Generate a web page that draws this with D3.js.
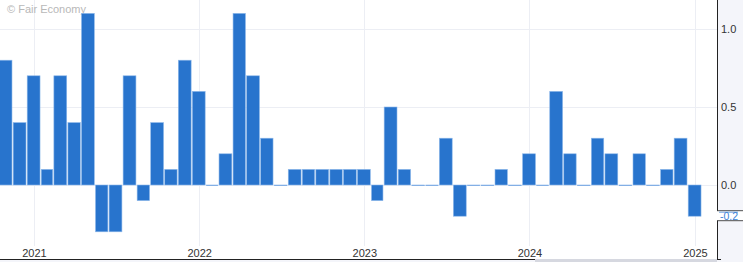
<!DOCTYPE html>
<html lang="en">
<head>
<meta charset="UTF-8">
<title>Monthly change</title>
<script src="https://d3js.org/d3.v7.min.js"></script>
<style>
    body { margin: 0; background: #fff; }
    .tick_text { font-family: "Liberation Sans Narrow", "Liberation Sans", sans-serif; font-size: 11px; fill: #333; }
    .mark { font-family: "Liberation Sans", sans-serif; font-size: 11px; fill: #b8b8b8; }
</style>
</head>
<body>
<svg width="743" height="262"></svg>
<script>
    // monthly values, Nov 2020 .. Jan 2025
    const startMonth = "2020-11";
    const values = [0.8, 0.4,
        0.7, 0.1, 0.7, 0.4, 1.1, -0.3, -0.3, 0.7, -0.1, 0.4, 0.1, 0.8,
        0.6, 0.0, 0.2, 1.1, 0.7, 0.3, 0.0, 0.1, 0.1, 0.1, 0.1, 0.1,
        0.1, -0.1, 0.5, 0.1, 0.0, 0.0, 0.3, -0.2, 0.0, 0.0, 0.1, 0.0,
        0.2, 0.0, 0.6, 0.2, 0.0, 0.3, 0.2, 0.0, 0.2, 0.0, 0.1, 0.3,
        -0.2];
    const yTicks = [0.0, 0.5, 1.0];
    const yearTicks = [2021, 2022, 2023, 2024, 2025];
    const lastLabel = "-0.2";

    const svg = d3.select("svg");
    const W = 743, H = 262, plotRight = 717, axisBottom = 259;

    const parse = d3.timeParse("%Y-%m");
    const t0 = parse(startMonth);
    const data = values.map((v, i) => ({date: d3.timeMonth.offset(t0, i), value: v}));

    const x = d3.scaleTime()
        .domain([new Date(2021, 0, 1), new Date(2025, 0, 1)])
        .range([33.5, 694.5]);
    const y = d3.scaleLinear().domain([0, 1]).range([185, 29]);

    // grid
    const grid = svg.append("g");
    grid.selectAll("line.h").data(yTicks).enter().append("line")
        .attr("x1", 0).attr("x2", plotRight)
        .attr("y1", d => Math.round(y(d)) + 0.5).attr("y2", d => Math.round(y(d)) + 0.5)
        .attr("stroke", "#eceef4");
    grid.selectAll("line.v").data(yearTicks).enter().append("line")
        .attr("x1", d => Math.round(x(new Date(d, 0, 1))) + 0.5)
        .attr("x2", d => Math.round(x(new Date(d, 0, 1))) + 0.5)
        .attr("y1", 0).attr("y2", 246)
        .attr("stroke", "#eceef4");

    // watermark
    svg.append("text").attr("class", "mark").attr("x", 7).attr("y", 13).text("\u00a9 Fair Economy");

    // bars
    svg.append("g").selectAll("rect").data(data).enter().append("rect")
        .attr("x", d => x(d.date) - 6.3)
        .attr("width", d => x(d3.timeMonth.offset(d.date, 1)) - x(d.date) - 1.2)
        .attr("y", d => y(Math.max(0, d.value)))
        .attr("height", d => Math.max(0.6, Math.abs(y(d.value) - y(0))))
        .attr("fill", "#2874cd")
        .attr("stroke", "#8cb7ea")
        .attr("stroke-width", 0.6);

    // x labels
    svg.append("g").selectAll("text").data(yearTicks).enter().append("text")
        .attr("class", "tick_text")
        .attr("x", d => x(new Date(d, 0, 1)) + 1)
        .attr("y", 257)
        .attr("text-anchor", "middle")
        .text(d => d);

    // bottom line and scrollbar
    svg.append("rect").attr("x", 0).attr("y", axisBottom).attr("width", W).attr("height", H - axisBottom).attr("fill", "#f4f5fa");
    svg.append("rect").attr("x", 535).attr("y", axisBottom).attr("width", plotRight - 535).attr("height", H - axisBottom).attr("fill", "#d6d8e0");
    svg.append("line").attr("x1", 0).attr("x2", 535).attr("y1", axisBottom + 0.5).attr("y2", axisBottom + 0.5).attr("stroke", "#222");

    // right axis panel
    svg.append("rect").attr("x", plotRight).attr("y", 0).attr("width", W - plotRight).attr("height", axisBottom + 1).attr("fill", "#f4f5fa");
    svg.append("line").attr("x1", plotRight + 0.5).attr("x2", plotRight + 0.5).attr("y1", 0).attr("y2", axisBottom + 1).attr("stroke", "#222");
    svg.append("line").attr("x1", plotRight).attr("x2", plotRight + 4).attr("y1", axisBottom + 0.5).attr("y2", axisBottom + 0.5).attr("stroke", "#222");
    svg.append("g").selectAll("text").data(yTicks).enter().append("text")
        .attr("class", "tick_text")
        .attr("x", 721).attr("y", d => y(d) + 4)
        .text(d => d.toFixed(1));

    // last value label
    const ly = y(values[values.length - 1]);
    svg.append("rect").attr("x", plotRight - 0.5).attr("y", ly - 5.5).attr("width", W - plotRight + 1).attr("height", 10).attr("fill", "#fff");
    svg.append("line").attr("x1", plotRight).attr("x2", W).attr("y1", ly - 5.5).attr("y2", ly - 5.5).attr("stroke", "#222").attr("stroke-width", 0.8);
    svg.append("line").attr("x1", plotRight).attr("x2", W).attr("y1", ly + 4.5).attr("y2", ly + 4.5).attr("stroke", "#222").attr("stroke-width", 0.8);
    svg.append("line").attr("x1", 719).attr("x2", 738).attr("y1", ly - 4).attr("y2", ly - 4).attr("stroke", "#4a8ad8").attr("stroke-width", 0.8);
    svg.append("text").attr("class", "tick_text").attr("x", 720).attr("y", ly + 3.5)
        .style("fill", "#3b82d6").style("font-size", "10.5px").text(lastLabel);
</script>
</body>
</html>
